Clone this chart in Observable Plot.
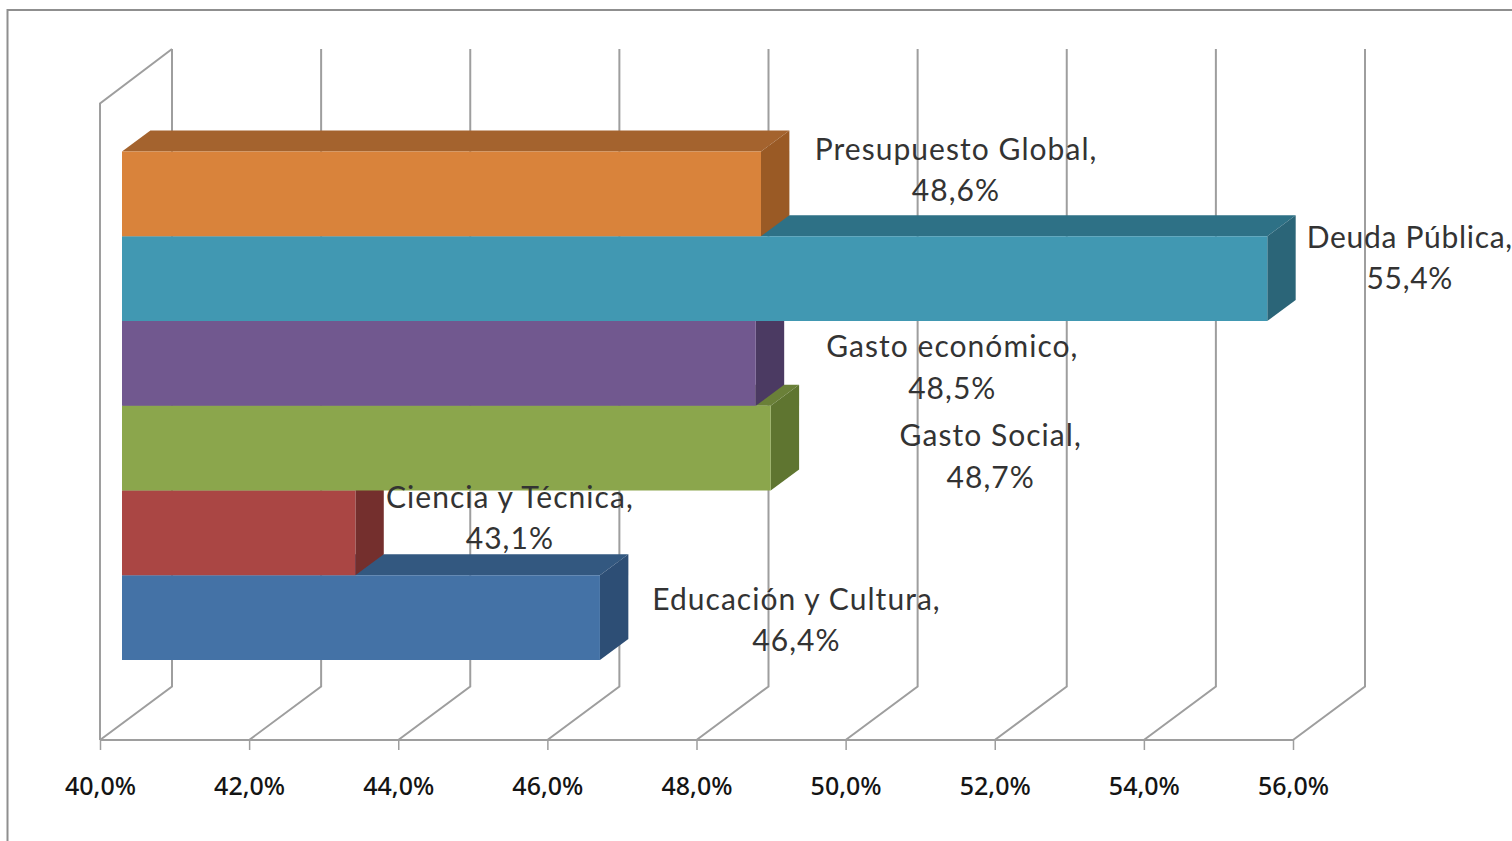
<!DOCTYPE html>
<html>
<head>
<meta charset="utf-8">
<script src="https://cdn.jsdelivr.net/npm/d3@7"></script>
<script src="https://cdn.jsdelivr.net/npm/@observablehq/plot@0.6"></script>
<style>
html,body{margin:0;padding:0;background:#fff;overflow:hidden}
svg{display:block}
.lbl text{letter-spacing:1.05px}
.lblTight text{letter-spacing:0.7px}
</style>
</head>
<body>
<div id="chart"></div>
<script>
// Data, listed bottom to top (Excel's category order)
const names = ["Educación y Cultura","Ciencia y Técnica","Gasto Social","Gasto económico","Deuda Pública","Presupuesto Global"];
const values = [46.41,43.13,48.7,48.5,55.36,48.57];
const tickValues = [40,42,44,46,48,50,52,54,56];

// Styles
const frontColors = ["#4472a6","#aa4644","#8ba64c","#71588f","#4198b2","#d9833b"];
const topColors   = ["#335880","#7f3432","#6a8038","#54416c","#2e7186","#a4632e"];
const sideColors  = ["#2d4e75","#742f2d","#5f7530","#4b3a62","#2b6578","#9a5a25"];
const labelDx = [218,176,241.5,218,164,216.5];
const labelDy = [-1,-18,5,1,-24,-27];
const labelClass = ["lbl","lbl","lbl","lbl","lblTight","lbl"];

const barOffsetX = 22, barDepthX = 28.4, barDepthY = 21;
const floorDepthX = 72, floorDepthY = 53.5;
const gridColor = "#9e9e9e";

const rows = names.map((name,i)=>({name,value:values[i],i}));
const pct = v => v.toFixed(1).replace(".",",")+"%";

function polyline(points, stroke, width){
  const p = document.createElementNS("http://www.w3.org/2000/svg","polyline");
  p.setAttribute("points", points.map(q=>q.join(",")).join(" "));
  p.setAttribute("fill","none");
  p.setAttribute("stroke",stroke);
  p.setAttribute("stroke-width",width);
  return p;
}
function polygon(points, fill){
  const p = document.createElementNS("http://www.w3.org/2000/svg","polygon");
  p.setAttribute("points", points.map(q=>q.join(",")).join(" "));
  p.setAttribute("fill",fill);
  return p;
}

// Outer chart-area border, walls and gridlines of the 3D box
const box = (index, {x}, values_, {width,height,marginTop,marginBottom}) => {
  const g = document.createElementNS("http://www.w3.org/2000/svg","g");
  const bottom = height-marginBottom;
  g.appendChild(polyline([[7.5,height],[7.5,10],[width,10]],"#8f8f8f",2));
  for (const t of tickValues){
    const px = x(t);
    g.appendChild(polyline([[px,bottom],[px+floorDepthX,bottom-floorDepthY],[px+floorDepthX,marginTop]],gridColor,2));
  }
  g.appendChild(polyline([[x(tickValues[0]),bottom],[x(tickValues[0]),marginTop+floorDepthY+1],[x(tickValues[0])+floorDepthX,marginTop]],gridColor,2));
  g.appendChild(polyline([[x(tickValues[0]),bottom],[x(tickValues[tickValues.length-1]),bottom]],gridColor,2));
  return g;
};

const chart = Plot.plot({
  width:1512, height:841,
  marginTop:49, marginBottom:101, marginLeft:100, marginRight:219,
  style:{background:"#fff"},
  x:{domain:[40,56], range:[100,1293]},
  y:{type:"band", domain:names.slice().reverse(), range:[151.5,660], padding:0, round:false},
  marks:[
    box,
    Plot.axisX({ticks:tickValues, tickFormat:pct, tickSize:10, tickPadding:27, label:null,
      fontSize:25, fontWeight:500, fontFamily:"Noto Sans", fill:"#141414", stroke:gridColor, strokeWidth:1.5}),
    Plot.axisY({ticks:[], label:null, tickSize:0}),
    Plot.barX(rows,{
      x1:()=>40, x2:"value", y:"name", dx:barOffsetX,
      fill:d=>frontColors[d.i],
      render(index,scales,vals,dims,ctx,next){
        const g = next(index,scales,vals,dims,ctx);
        const rects = g.querySelectorAll("rect");
        index.forEach((i,k)=>{
          const r = rects[k];
          const rx=+r.getAttribute("x"), ry=+r.getAttribute("y"),
                rw=+r.getAttribute("width"), rh=+r.getAttribute("height");
          r.parentNode.insertBefore(polygon([[rx,ry],[rx+barDepthX,ry-barDepthY],[rx+rw+barDepthX,ry-barDepthY],[rx+rw,ry]],topColors[i]),r);
          r.parentNode.insertBefore(polygon([[rx+rw,ry],[rx+rw+barDepthX,ry-barDepthY],[rx+rw+barDepthX,ry+rh-barDepthY],[rx+rw,ry+rh]],sideColors[i]),r);
        });
        return g;
      }
    }),
    ...rows.map(d=>Plot.text([d],{
      x:"value", y:"name", className:labelClass[d.i],
      text:r=>`${r.name},\n${pct(r.value)}`,
      dx:labelDx[d.i], dy:labelDy[d.i],
      fontSize:30, lineHeight:1.38, fontFamily:"Lato, Carlito, sans-serif",
      fill:"#333", textAnchor:"middle"
    }))
  ]
});
document.getElementById("chart").appendChild(chart);
</script>
</body>
</html>
